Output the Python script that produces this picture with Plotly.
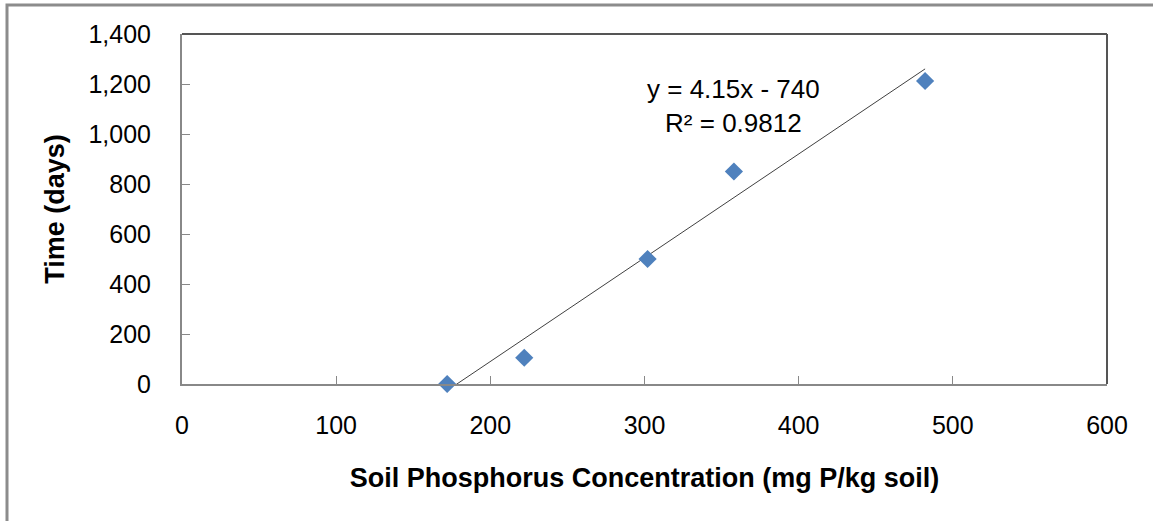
import plotly.graph_objects as go

# Data
phosphorus = [172, 222, 302, 358, 482]        # mg P/kg soil
time_days = [0, 105, 500, 850, 1212]           # days

# Linear trendline as printed on chart
slope = 4.15
intercept = -740
trend_x = [min(phosphorus), max(phosphorus)]
trend_y = [slope * x + intercept for x in trend_x]

x_ticks = [0, 100, 200, 300, 400, 500, 600]
y_ticks = [0, 200, 400, 600, 800, 1000, 1200, 1400]
y_tick_labels = ["0", "200", "400", "600", "800", "1,000", "1,200", "1,400"]

W, H = 1153, 521
L, R, T, B = 182, 46, 34, 137
pw, ph = W - L - R, H - T - B

FONT = "Liberation Sans, Arial, sans-serif"

fig = go.Figure()
fig.add_trace(go.Scatter(
    x=trend_x, y=trend_y, mode="lines",
    line=dict(color="#404040", width=1), showlegend=False, hoverinfo="skip"))
fig.add_trace(go.Scatter(
    x=phosphorus, y=time_days, mode="markers",
    marker=dict(symbol="diamond", size=14, color="#4f81bd"),
    showlegend=False, cliponaxis=False))

def px_x(p):
    return (p - L) / pw

def px_y(p):
    return (H - B - p) / ph

fig.update_layout(
    width=W, height=H,
    margin=dict(l=L, r=R, t=T, b=B),
    paper_bgcolor="white", plot_bgcolor="white",
    font=dict(family=FONT, size=25, color="black"),
    xaxis=dict(range=[0, 600], tickvals=x_ticks, ticks="inside", ticklen=8,
               tickcolor="#888888", showgrid=False, zeroline=False,
               showline=True, linecolor="#888888", linewidth=2,
               tickfont=dict(size=25), ticklabelstandoff=18,
               title=dict(text="<b>Soil Phosphorus Concentration (mg P/kg soil)</b>",
                          font=dict(size=27), standoff=30)),
    yaxis=dict(range=[0, 1400], tickvals=y_ticks, ticktext=y_tick_labels,
               ticks="inside", ticklen=8, tickcolor="#888888",
               showgrid=False, zeroline=False,
               showline=True, linecolor="#888888", linewidth=2,
               tickfont=dict(size=25), ticklabelstandoff=24,
               title=dict(text="<b>Time (days)</b>", font=dict(size=27), standoff=16)),
    shapes=[
        # top and right plot border
        dict(type="line", xref="paper", yref="paper", x0=0, x1=1, y0=1, y1=1,
             line=dict(color="#555555", width=2)),
        dict(type="line", xref="paper", yref="paper", x0=1, x1=1, y0=0, y1=1,
             line=dict(color="#555555", width=2)),
        # outer chart frame
        dict(type="rect", xref="paper", yref="paper",
             x0=px_x(7), x1=px_x(1170), y0=px_y(5), y1=px_y(540),
             line=dict(color="#8c8c8c", width=3)),
    ],
    annotations=[
        dict(x=px_x(733), y=px_y(106), xref="paper", yref="paper",
             yanchor="middle", text="y = 4.15x - 740<br>R² = 0.9812", showarrow=False,
             font=dict(size=26, family=FONT), align="center"),
    ],
)

fig.write_html("out.html")
